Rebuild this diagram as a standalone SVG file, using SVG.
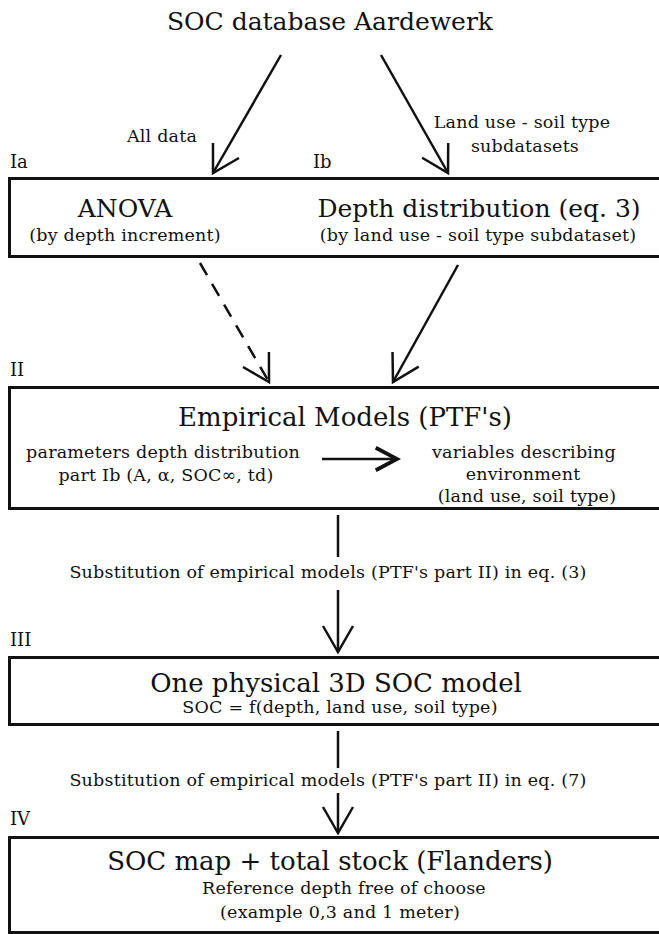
<svg xmlns="http://www.w3.org/2000/svg" width="659" height="934" viewBox="0 0 659 934">
<style>
text{font-family:"DejaVu Serif","Liberation Serif",serif;fill:#111;}
.title{font-size:25px;}
.big{font-size:26px;}
.mid{font-size:25px;}
.sm{font-size:17.5px;letter-spacing:0.2px;}
.lab{font-size:18px;}
.box{fill:#fff;stroke:#111;stroke-width:3;}
.ln{fill:none;stroke:#111;stroke-width:2.5;}
</style>
<defs>
<marker id="v" markerUnits="userSpaceOnUse" markerWidth="40" markerHeight="40" refX="0" refY="0" viewBox="-30 -20 32 40" orient="auto" overflow="visible">
<path d="M-26,-15 L0,0 L-26,15" fill="none" stroke="#111" stroke-width="2.5"/>
</marker>
<marker id="vs" markerUnits="userSpaceOnUse" markerWidth="30" markerHeight="30" refX="0" refY="0" viewBox="-20 -12 22 24" orient="auto" overflow="visible">
<path d="M-17,-9 L0,0 L-17,9" fill="none" stroke="#111" stroke-width="3"/>
</marker>
</defs>

<g id="title">
<text class="title" x="330" y="30" text-anchor="middle">SOC database Aardewerk</text>
</g>

<g id="labels">
<text class="sm" x="162" y="142" text-anchor="middle">All data</text>
<text class="sm" x="522" y="128" text-anchor="middle">Land use - soil type</text>
<text class="sm" x="525" y="152" text-anchor="middle">subdatasets</text>
<text class="lab" x="10" y="168">Ia</text>
<text class="lab" x="313" y="168">Ib</text>
<text class="lab" x="10" y="376">II</text>
<text class="lab" x="10" y="646">III</text>
<text class="lab" x="10" y="825">IV</text>
<text class="sm" x="328" y="578" text-anchor="middle">Substitution of empirical models (PTF's part II) in eq. (3)</text>
<text class="sm" x="328" y="786" text-anchor="middle">Substitution of empirical models (PTF's part II) in eq. (7)</text>
</g>

<g id="node-I">
<rect class="box" x="9.5" y="178.5" width="670" height="78"/>
<text class="mid" x="125" y="217" text-anchor="middle">ANOVA</text>
<text class="sm" x="125" y="241" text-anchor="middle">(by depth increment)</text>
<text class="mid" x="479" y="217" text-anchor="middle">Depth distribution (eq. 3)</text>
<text class="sm" x="478" y="241" text-anchor="middle">(by land use - soil type subdataset)</text>
</g>

<g id="node-II">
<rect class="box" x="9.5" y="387.5" width="670" height="121"/>
<text class="big" x="345" y="426" text-anchor="middle">Empirical Models (PTF's)</text>
<text class="sm" x="163" y="458" text-anchor="middle">parameters depth distribution</text>
<text class="sm" x="166" y="481" text-anchor="middle">part Ib (A, α, SOC∞, td)</text>
<text class="sm" x="524" y="458" text-anchor="middle">variables describing</text>
<text class="sm" x="523" y="480" text-anchor="middle">environment</text>
<text class="sm" x="527" y="502" text-anchor="middle">(land use, soil type)</text>
</g>

<g id="node-III">
<rect class="box" x="9.5" y="657.5" width="670" height="67"/>
<text class="big" x="336" y="692" text-anchor="middle">One physical 3D SOC model</text>
<text class="sm" x="340" y="713" text-anchor="middle">SOC = f(depth, land use, soil type)</text>
</g>

<g id="node-IV">
<rect class="box" x="9.5" y="837.5" width="670" height="95"/>
<text class="big" x="330" y="870" text-anchor="middle">SOC map + total stock (Flanders)</text>
<text class="sm" x="344" y="894" text-anchor="middle">Reference depth free of choose</text>
<text class="sm" x="340" y="918" text-anchor="middle">(example 0,3 and 1 meter)</text>
</g>

<g id="connectors">
<line class="ln" x1="281" y1="55" x2="213" y2="173" marker-end="url(#v)"/>
<line class="ln" x1="381" y1="55" x2="448" y2="173" marker-end="url(#v)"/>
<line class="ln" x1="200" y1="263" x2="269" y2="382" stroke-dasharray="14,10" marker-end="url(#v)"/>
<line class="ln" x1="458" y1="265" x2="393" y2="382" marker-end="url(#v)"/>
<line class="ln" x1="322" y1="459" x2="397" y2="459" stroke-width="3" marker-end="url(#vs)"/>
<line class="ln" x1="338" y1="515" x2="338" y2="557"/>
<line class="ln" x1="338" y1="590" x2="338" y2="652" marker-end="url(#v)"/>
<line class="ln" x1="338" y1="731" x2="338" y2="768"/>
<line class="ln" x1="338" y1="793" x2="338" y2="833" marker-end="url(#v)"/>
</g>
</svg>
